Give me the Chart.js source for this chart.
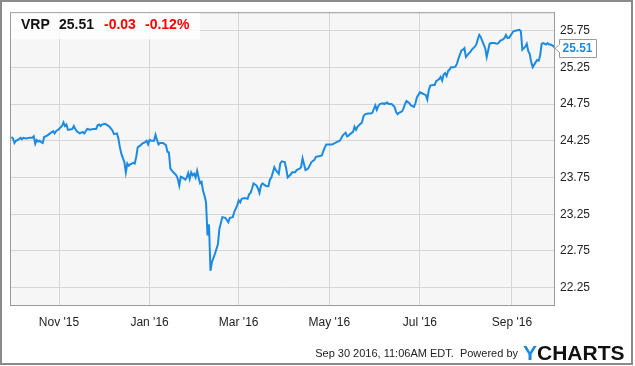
<!DOCTYPE html>
<html>
<head>
<meta charset="utf-8">
<script src="https://cdn.jsdelivr.net/npm/chart.js@4.4.1/dist/chart.umd.min.js"></script>
<style>
  html, body { margin: 0; padding: 0; background: #fff; }
  canvas { display: block; }
</style>
</head>
<body>
<canvas id="myChart" width="635" height="366"></canvas>
<script>
var ticker = 'VRP';
var lastPrice = '25.51';
var change = '-0.03';
var changePct = '-0.12%';
var stamp = 'Sep 30 2016, 11:06AM EDT.  Powered by';

// price history
var dates = [
  '2015-09-30','2015-10-01','2015-10-02','2015-10-03','2015-10-05','2015-10-06','2015-10-07','2015-10-08',
  '2015-10-10','2015-10-12','2015-10-14','2015-10-15','2015-10-16','2015-10-17','2015-10-18','2015-10-19',
  '2015-10-20','2015-10-21','2015-10-22','2015-10-24','2015-10-26','2015-10-28','2015-10-29','2015-10-30',
  '2015-11-01','2015-11-03','2015-11-04','2015-11-05','2015-11-06','2015-11-07','2015-11-08','2015-11-10',
  '2015-11-11','2015-11-12','2015-11-13','2015-11-15','2015-11-17','2015-11-18','2015-11-19','2015-11-20',
  '2015-11-22','2015-11-24','2015-11-26','2015-11-27','2015-11-28','2015-11-29','2015-11-30','2015-12-02',
  '2015-12-03','2015-12-05','2015-12-07','2015-12-08','2015-12-10','2015-12-11','2015-12-12','2015-12-13',
  '2015-12-15','2015-12-16','2015-12-17','2015-12-18','2015-12-19','2015-12-21','2015-12-22','2015-12-23',
  '2015-12-24','2015-12-26','2015-12-27','2015-12-29','2015-12-30','2015-12-31','2016-01-01','2016-01-02',
  '2016-01-04','2016-01-05','2016-01-06','2016-01-07','2016-01-08','2016-01-10','2016-01-12','2016-01-13',
  '2016-01-14','2016-01-15','2016-01-17','2016-01-19','2016-01-20','2016-01-21','2016-01-22','2016-01-23',
  '2016-01-25','2016-01-26','2016-01-27','2016-01-28','2016-01-29','2016-01-30','2016-01-31','2016-02-01',
  '2016-02-02','2016-02-03','2016-02-04','2016-02-05','2016-02-06','2016-02-07','2016-02-08','2016-02-09',
  '2016-02-10','2016-02-11','2016-02-12','2016-02-14','2016-02-16','2016-02-17','2016-02-19','2016-02-21',
  '2016-02-22','2016-02-23','2016-02-24','2016-02-26','2016-02-27','2016-02-29','2016-03-01','2016-03-02',
  '2016-03-03','2016-03-05','2016-03-07','2016-03-08','2016-03-09','2016-03-10','2016-03-11','2016-03-13',
  '2016-03-14','2016-03-15','2016-03-16','2016-03-17','2016-03-19','2016-03-20','2016-03-21','2016-03-22',
  '2016-03-23','2016-03-25','2016-03-26','2016-03-28','2016-03-29','2016-03-30','2016-04-01','2016-04-02',
  '2016-04-03','2016-04-05','2016-04-06','2016-04-08','2016-04-09','2016-04-11','2016-04-12','2016-04-13',
  '2016-04-15','2016-04-16','2016-04-17','2016-04-19','2016-04-21','2016-04-22','2016-04-24','2016-04-26',
  '2016-04-27','2016-04-28','2016-04-29','2016-05-02','2016-05-03','2016-05-05','2016-05-06','2016-05-08',
  '2016-05-09','2016-05-10','2016-05-12','2016-05-13','2016-05-14','2016-05-15','2016-05-17','2016-05-18',
  '2016-05-19','2016-05-20','2016-05-21','2016-05-23','2016-05-24','2016-05-25','2016-05-27','2016-05-29',
  '2016-05-30','2016-06-01','2016-06-02','2016-06-03','2016-06-04','2016-06-06','2016-06-07','2016-06-09',
  '2016-06-10','2016-06-11','2016-06-12','2016-06-14','2016-06-15','2016-06-16','2016-06-17','2016-06-19',
  '2016-06-20','2016-06-21','2016-06-22','2016-06-24','2016-06-25','2016-06-27','2016-06-28','2016-06-29',
  '2016-07-01','2016-07-02','2016-07-04','2016-07-05','2016-07-06','2016-07-07','2016-07-08','2016-07-10',
  '2016-07-11','2016-07-12','2016-07-14','2016-07-15','2016-07-16','2016-07-17','2016-07-18','2016-07-19',
  '2016-07-20','2016-07-21','2016-07-22','2016-07-24','2016-07-25','2016-07-26','2016-07-27','2016-07-29',
  '2016-07-30','2016-07-31','2016-08-01','2016-08-03','2016-08-04','2016-08-05','2016-08-07','2016-08-08',
  '2016-08-09','2016-08-10','2016-08-11','2016-08-13','2016-08-14','2016-08-15','2016-08-17','2016-08-18',
  '2016-08-20','2016-08-22','2016-08-23','2016-08-24','2016-08-26','2016-08-27','2016-08-28','2016-08-29',
  '2016-08-30','2016-09-01','2016-09-02','2016-09-04','2016-09-06','2016-09-07','2016-09-08','2016-09-10',
  '2016-09-11','2016-09-12','2016-09-13','2016-09-14','2016-09-15','2016-09-17','2016-09-18','2016-09-19',
  '2016-09-20','2016-09-21','2016-09-22','2016-09-24','2016-09-25','2016-09-26','2016-09-27','2016-09-29',
  '2016-09-30'
];
var prices = [
  24.30,24.28,24.22,24.25,24.27,24.29,24.27,24.29,
  24.28,24.29,24.29,24.31,24.21,24.26,24.24,24.25,
  24.23,24.22,24.30,24.32,24.35,24.38,24.35,24.38,
  24.41,24.45,24.50,24.45,24.47,24.40,24.40,24.41,
  24.45,24.41,24.38,24.35,24.37,24.35,24.38,24.41,
  24.40,24.41,24.41,24.46,24.47,24.45,24.47,24.48,
  24.47,24.44,24.39,24.34,24.35,24.28,24.16,24.07,
  23.96,23.82,23.94,23.91,23.93,23.95,23.94,24.03,
  24.16,24.19,24.21,24.23,24.25,24.20,24.26,24.25,
  24.25,24.33,24.26,24.20,24.22,24.22,24.19,24.10,
  24.09,23.87,23.82,23.78,23.73,23.64,23.76,23.75,
  23.72,23.75,23.81,23.73,23.82,23.78,23.80,23.75,
  23.84,23.75,23.67,23.69,23.57,23.50,23.41,22.96,
  23.11,22.48,22.60,22.71,22.84,23.05,23.21,23.20,
  23.17,23.14,23.20,23.21,23.28,23.37,23.44,23.41,
  23.46,23.47,23.46,23.52,23.54,23.60,23.67,23.64,
  23.60,23.54,23.64,23.67,23.64,23.63,23.63,23.72,
  23.75,23.89,23.85,23.80,23.94,23.97,23.96,23.87,
  23.75,23.79,23.82,23.82,23.85,23.87,23.89,24.01,
  23.85,23.86,23.88,23.96,23.99,24.03,24.04,24.05,
  24.11,24.16,24.20,24.20,24.20,24.22,24.23,24.25,
  24.28,24.32,24.36,24.31,24.32,24.34,24.37,24.44,
  24.40,24.44,24.46,24.50,24.58,24.61,24.62,24.62,
  24.63,24.73,24.67,24.72,24.75,24.76,24.75,24.77,
  24.75,24.75,24.75,24.71,24.64,24.61,24.63,24.65,
  24.69,24.75,24.79,24.76,24.73,24.71,24.76,24.84,
  24.91,24.90,24.88,24.87,24.81,24.94,25.00,25.01,
  25.01,25.06,25.09,25.12,25.07,25.15,25.17,25.13,
  25.20,25.22,25.25,25.25,25.26,25.30,25.37,25.48,
  25.49,25.51,25.39,25.44,25.46,25.49,25.53,25.56,
  25.63,25.69,25.66,25.56,25.51,25.39,25.57,25.58,
  25.58,25.57,25.58,25.61,25.63,25.65,25.69,25.65,
  25.65,25.71,25.74,25.75,25.76,25.74,25.49,25.53,
  25.57,25.47,25.43,25.32,25.25,25.32,25.35,25.34,
  25.41,25.57,25.58,25.56,25.58,25.56,25.56,25.54,
  25.51
];

var xStart = '2015-09-29';
var xEnd = '2016-09-30';
var xTickDates = ['2015-11-01', '2016-01-01', '2016-03-01', '2016-05-01', '2016-07-01', '2016-09-01'];
var xTickLabels = ["Nov '15", "Jan '16", "Mar '16", "May '16", "Jul '16", "Sep '16"];
var yTicks = [22.25, 22.75, 23.25, 23.75, 24.25, 24.75, 25.25, 25.75];
var yMin = 22;
var yMax = 26;

var lineColor = '#1b8be2';
var gridColor = '#d6d6d6';
var fontName = '"Liberation Sans", Arial, sans-serif';

Chart.defaults.font.family = fontName;

var points = [];
for (var i = 0; i < dates.length; i++) {
    points.push({ x: Date.parse(dates[i]), y: prices[i] });
}

// backgrounds, frame, header box, last value flag and footer
var decor = {
    id: 'decor',
    beforeDraw: function (chart) {
        var ctx = chart.ctx, a = chart.chartArea;
        ctx.save();
        ctx.fillStyle = '#fff';
        ctx.fillRect(0, 0, chart.width, chart.height);
        ctx.fillStyle = '#f6f6f6';
        ctx.fillRect(a.left, a.top, a.right - a.left, a.bottom - a.top);
        ctx.restore();
    },
    afterDraw: function (chart) {
        var ctx = chart.ctx, a = chart.chartArea;
        ctx.save();

        // plot border
        ctx.strokeStyle = '#9a9a9a';
        ctx.lineWidth = 1;
        ctx.strokeRect(a.left + 0.5, a.top + 0.5, a.right - a.left - 1, a.bottom - a.top - 1);

        // header box
        ctx.fillStyle = 'rgba(255,255,255,0.8)';
        ctx.fillRect(a.left + 1, a.top + 1, 189, 26);
        ctx.font = 'bold 14px ' + fontName;
        ctx.textBaseline = 'alphabetic';
        ctx.textAlign = 'left';
        ctx.fillStyle = '#111';
        ctx.fillText(ticker, 21, 29);
        ctx.fillText(lastPrice, 59, 29);
        ctx.fillStyle = '#f00';
        ctx.fillText(change, 104, 29);
        ctx.fillText(changePct, 145, 29);

        // last value flag
        var yv = Math.round(chart.scales.y.getPixelForValue(prices[prices.length - 1])) + 0.5;
        var bx = a.right + 4.5;
        ctx.fillStyle = '#fff';
        ctx.strokeStyle = '#9a9a9a';
        ctx.beginPath();
        ctx.moveTo(bx, yv - 9);
        ctx.lineTo(bx + 37, yv - 9);
        ctx.lineTo(bx + 37, yv + 9);
        ctx.lineTo(bx, yv + 9);
        ctx.lineTo(bx, yv + 4);
        ctx.lineTo(a.right, yv);
        ctx.lineTo(bx, yv - 4);
        ctx.closePath();
        ctx.fill();
        ctx.stroke();
        ctx.font = 'bold 12px ' + fontName;
        ctx.fillStyle = lineColor;
        ctx.textBaseline = 'middle';
        ctx.fillText(lastPrice, bx + 3, yv + 0.5);

        // footer
        ctx.font = '11px ' + fontName;
        ctx.fillStyle = '#222';
        ctx.textAlign = 'right';
        ctx.textBaseline = 'alphabetic';
        ctx.fillText(stamp, 518, 357);
        ctx.textAlign = 'left';
        ctx.font = 'bold 21px ' + fontName;
        ctx.fillStyle = lineColor;
        ctx.fillText('Y', 523, 360);
        var yw = ctx.measureText('Y').width;
        ctx.fillStyle = '#111';
        ctx.fillText('CHARTS', 523 + yw, 360);

        // outer frame
        ctx.strokeStyle = '#8a8a8a';
        ctx.lineWidth = 2;
        ctx.strokeRect(1, 1, 631, 363);
        ctx.restore();
    }
};

var config = {
    type: 'line',
    data: {
        datasets: [{
            data: points,
            borderColor: lineColor,
            borderWidth: 2,
            pointRadius: 0,
            fill: false,
            tension: 0
        }]
    },
    options: {
        responsive: false,
        animation: false,
        layout: { padding: { top: 10, left: 10, right: 0, bottom: 0 } },
        plugins: {
            legend: { display: false },
            tooltip: { enabled: false }
        },
        scales: {
            x: {
                type: 'linear',
                position: 'bottom',
                min: Date.parse(xStart),
                max: Date.parse(xEnd),
                grid: { color: gridColor, drawTicks: false },
                border: { display: false },
                afterBuildTicks: function (s) {
                    s.ticks = xTickDates.map(function (d) { return { value: Date.parse(d) }; });
                },
                afterFit: function (s) { s.height = 60; },
                ticks: {
                    autoSkip: false,
                    maxRotation: 0,
                    padding: 9,
                    color: '#222',
                    font: { size: 12 },
                    callback: function (v, i) { return xTickLabels[i]; }
                }
            },
            y: {
                type: 'linear',
                position: 'right',
                min: yMin,
                max: yMax,
                grid: { color: gridColor, drawTicks: false },
                border: { display: false },
                afterBuildTicks: function (s) {
                    s.ticks = yTicks.map(function (v) { return { value: v }; });
                },
                afterFit: function (s) { s.width = 80; },
                ticks: {
                    padding: 5,
                    color: '#222',
                    font: { size: 12 },
                    callback: function (v) { return v.toFixed(2); }
                }
            }
        }
    },
    plugins: [decor]
};

var myChart = new Chart(document.getElementById('myChart').getContext('2d'), config);
</script>
</body>
</html>
